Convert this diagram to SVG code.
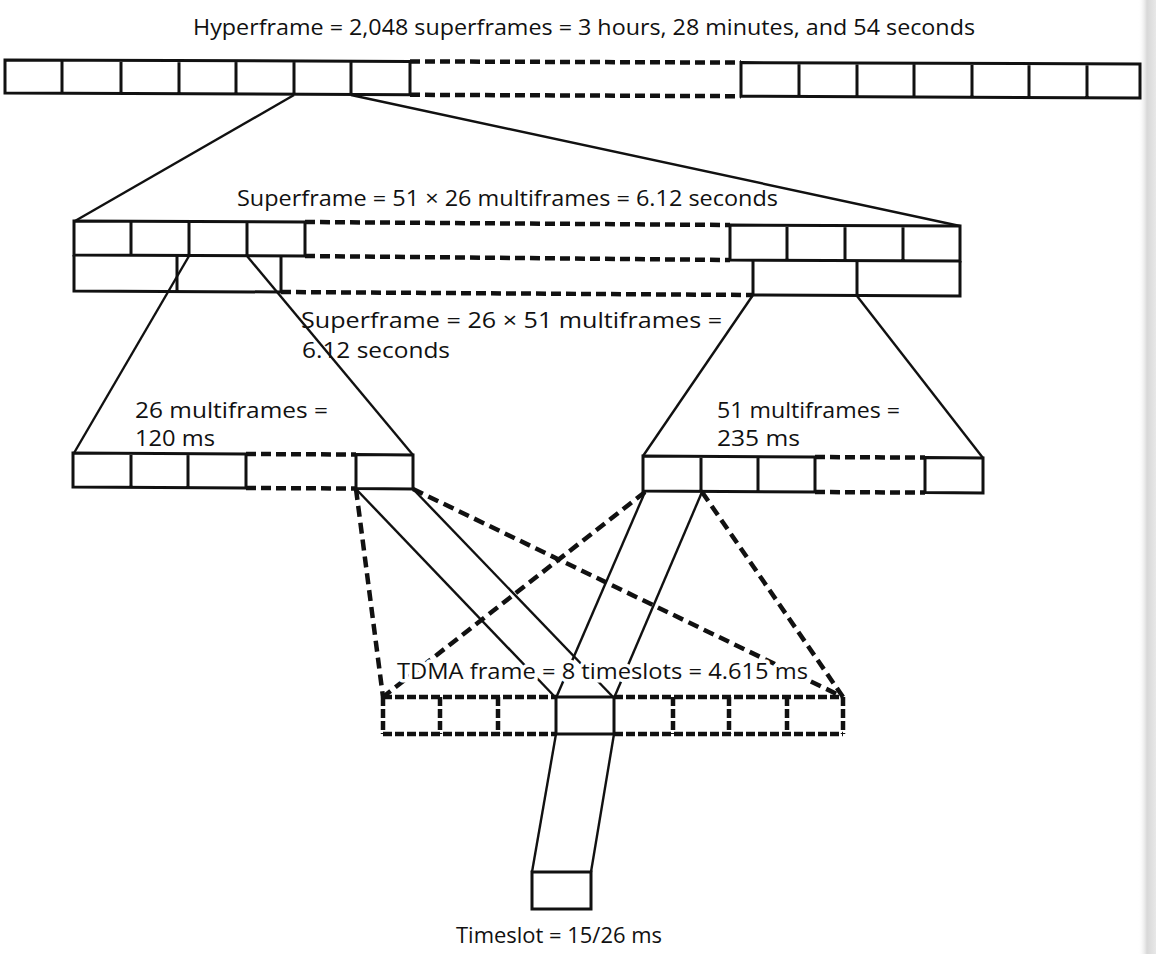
<svg xmlns="http://www.w3.org/2000/svg" width="1156" height="954" viewBox="0 0 1156 954">
  <defs>
    <linearGradient id="edgeShade" x1="0" y1="0" x2="1" y2="0">
      <stop offset="0" stop-color="#ffffff" stop-opacity="0"/>
      <stop offset="0.5" stop-color="#d8d8d8"/>
      <stop offset="1" stop-color="#e8e8e8"/>
    </linearGradient>
  </defs>
  <style>
    .box { fill: none; stroke: #111; stroke-width: 3; stroke-linejoin: miter; }
    .dash { fill: none; stroke: #111; stroke-width: 4.5; stroke-dasharray: 10 5; }
    .tdash { fill: none; stroke: #111; stroke-width: 4.5; stroke-dasharray: 9 3; }
    .link { fill: none; stroke: #111; stroke-width: 2.4; }
    .dlink { fill: none; stroke: #111; stroke-width: 4.5; stroke-dasharray: 11 6; }
    .lbl { font-family: "Open Sans", "Noto Sans", sans-serif; font-size: 22px; fill: #111; }
    .halo { stroke: #fff; stroke-width: 7; paint-order: stroke; stroke-linejoin: round; }
  </style>

  <rect width="1156" height="954" fill="#ffffff"/>
  <rect x="1138" y="0" width="18" height="954" fill="url(#edgeShade)"/>

  <!-- connectors between the frame levels -->
  <g id="connectors">
    <!-- hyperframe to superframe -->
    <line class="link" x1="294" y1="95" x2="75" y2="221"/>
    <line class="link" x1="351" y1="95" x2="960" y2="226"/>
    <!-- superframe to multiframes -->
    <line class="link" x1="189" y1="256" x2="74" y2="453"/>
    <line class="link" x1="247" y1="256" x2="413" y2="455"/>
    <line class="link" x1="753" y1="295" x2="643" y2="456"/>
    <line class="link" x1="857" y1="296" x2="983" y2="458"/>
    <!-- multiframes to TDMA frame -->
    <line class="dlink" x1="356" y1="489" x2="383" y2="697"/>
    <line class="dlink" x1="413" y1="489" x2="843" y2="697"/>
    <line class="dlink" x1="645" y1="492" x2="383" y2="697"/>
    <line class="dlink" x1="702" y1="492" x2="843" y2="697"/>
    <line class="link" x1="356" y1="489" x2="556" y2="698"/>
    <line class="link" x1="413" y1="489" x2="614" y2="698"/>
    <line class="link" x1="645" y1="492" x2="556" y2="698"/>
    <line class="link" x1="702" y1="492" x2="614" y2="698"/>
    <!-- TDMA frame to timeslot -->
    <line class="link" x1="556" y1="734" x2="532" y2="872"/>
    <line class="link" x1="614" y1="734" x2="591" y2="872"/>
  </g>

  <!-- hyperframe -->
  <g id="hyperframe">
    <text class="lbl" x="193" y="35" textLength="782" lengthAdjust="spacingAndGlyphs">Hyperframe = 2,048 superframes = 3 hours, 28 minutes, and 54 seconds</text>
    <path class="box" d="M410,61.4 L5,60 L5,93 L410,94.8 Z M62,60.2 V93.2 M121,60.4 V93.4 M179,60.6 V93.6 M236,60.8 V93.8 M294,61 V94 M351,61.2 V94.2"/>
    <path class="dash" d="M410,61.4 L741,62.6 M410,94.8 L741,96.2"/>
    <path class="box" d="M741,62.6 L1140,64 L1140,98 L741,96.2 Z M799,62.8 V96.4 M857,63 V96.6 M914,63.2 V96.9 M972,63.4 V97.2 M1029,63.6 V97.4 M1087,63.8 V97.7"/>
  </g>

  <!-- superframe -->
  <g id="superframe">
    <text class="lbl" x="237" y="206" textLength="541" lengthAdjust="spacingAndGlyphs">Superframe = 51 × 26 multiframes = 6.12 seconds</text>
    <path class="box" d="M74,221 L305,222 L305,256 L74,255 Z M131,221.2 V255.2 M189,221.4 V255.4 M247,221.6 V255.6"/>
    <path class="box" d="M74,255 L74,291 L281,292 L281,256 M177,255.5 V291.5"/>
    <path class="box" d="M730,225 L960,226 L960,261 L730,260 Z M787,225.2 V260.2 M845,225.4 V260.4 M903,225.6 V260.6"/>
    <path class="box" d="M753,260 L753,295 L960,296 L960,261 M857,260.5 V295.5"/>
    <path class="dash" d="M305,222 L730,225 M305,256 L730,260 M281,292 L753,295"/>
    <text class="lbl" x="301" y="328" textLength="421" lengthAdjust="spacingAndGlyphs">Superframe = 26 × 51 multiframes =</text>
    <text class="lbl" x="302" y="358" textLength="148" lengthAdjust="spacingAndGlyphs">6.12 seconds</text>
  </g>

  <!-- 26-frame multiframe -->
  <g id="multiframe-26">
    <text class="lbl" x="135" y="418" textLength="193" lengthAdjust="spacingAndGlyphs">26 multiframes =</text>
    <text class="lbl" x="135" y="446" textLength="80" lengthAdjust="spacingAndGlyphs">120 ms</text>
    <path class="box" d="M246,454 L73,453 L73,487 L246,488 M131,453.2 V487.2 M188,453.4 V487.4 M246,454 V488"/>
    <path class="dash" d="M246,454 L356,454.5 M246,488 L356,488.5"/>
    <path class="box" d="M356,454.5 L413,455 L413,489 L356,488.5 Z"/>
  </g>

  <!-- 51-frame multiframe -->
  <g id="multiframe-51">
    <text class="lbl" x="717" y="418" textLength="183" lengthAdjust="spacingAndGlyphs">51 multiframes =</text>
    <text class="lbl" x="717" y="446" textLength="83" lengthAdjust="spacingAndGlyphs">235 ms</text>
    <path class="box" d="M815,457 L643,456 L643,491 L815,492 M701,456.3 V491.3 M758,456.6 V491.6 M815,457 V492"/>
    <path class="dash" d="M815,457 L925,457.6 M815,492 L925,492.6"/>
    <path class="box" d="M925,457.6 L983,458 L983,493 L925,492.6 Z"/>
  </g>

  <!-- TDMA frame -->
  <g id="tdma-frame">
    <text class="lbl halo" x="397" y="679" textLength="411" lengthAdjust="spacingAndGlyphs">TDMA frame = 8 timeslots = 4.615 ms</text>
    <path class="tdash" d="M383,697 H556 M614,697 H843 M383,734 H556 M614,734 H843"/>
    <path class="tdash" d="M383,697 V734 M440,697 V734 M498,697 V734 M673,697 V734 M729,697 V734 M787,697 V734 M843,697 V734"/>
    <rect class="box" x="556" y="697" width="58" height="37"/>
  </g>

  <!-- single timeslot -->
  <g id="timeslot">
    <rect class="box" x="532" y="872" width="59" height="37"/>
    <text class="lbl" x="456" y="943" textLength="206" lengthAdjust="spacingAndGlyphs">Timeslot = 15/26 ms</text>
  </g>
</svg>
